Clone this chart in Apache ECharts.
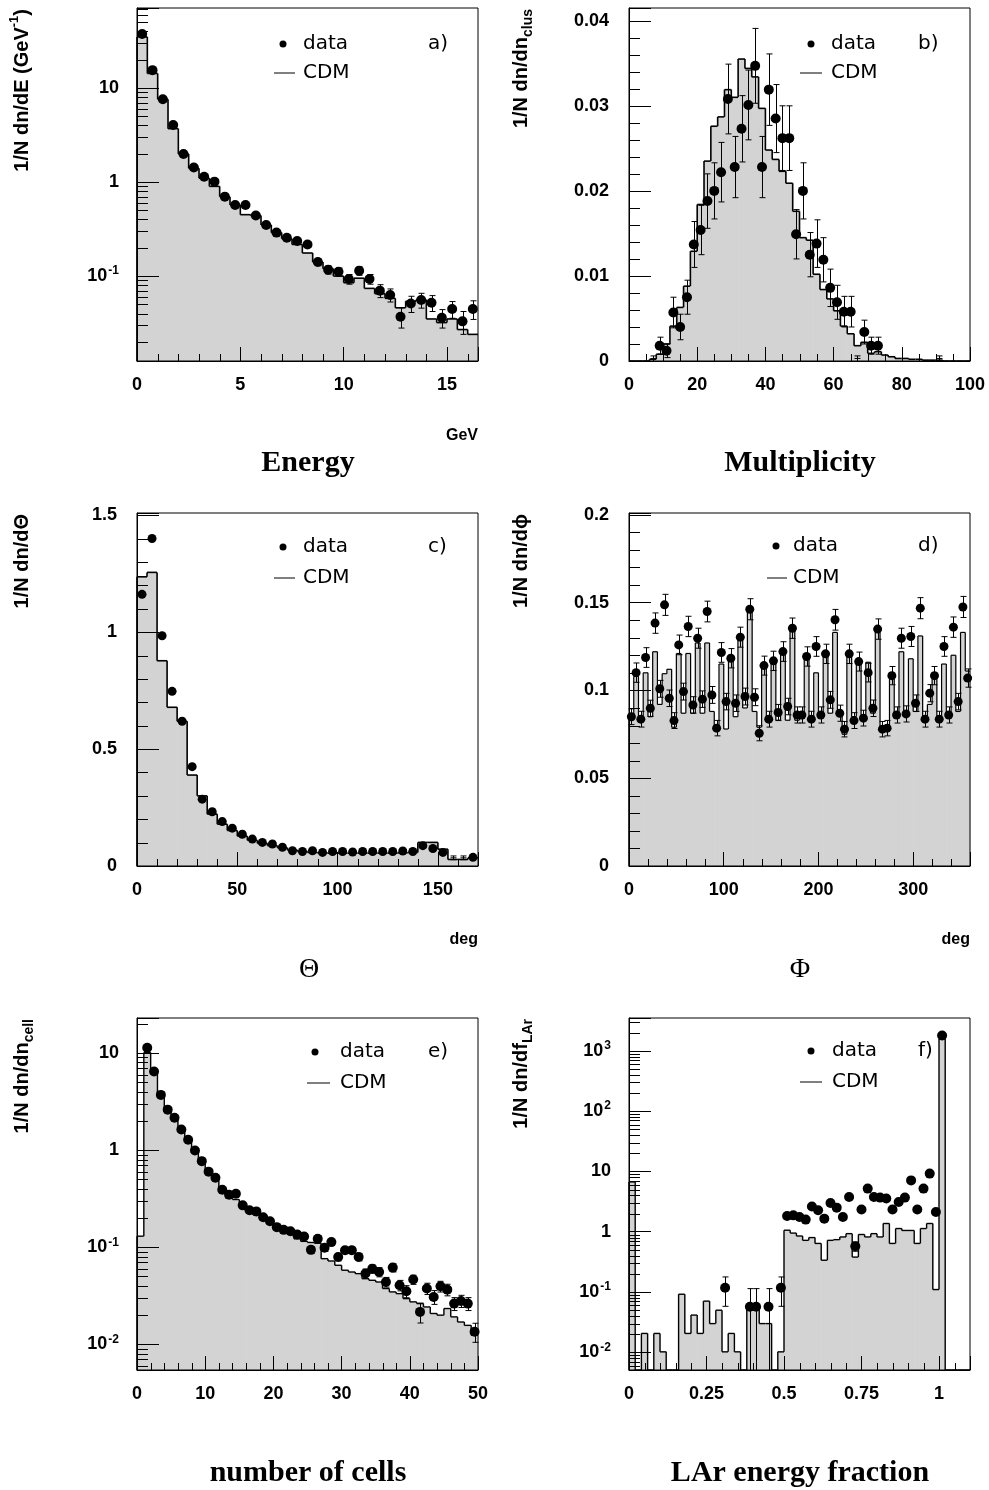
<!DOCTYPE html>
<html>
<head>
<meta charset="utf-8">
<script src="https://cdn.jsdelivr.net/npm/echarts@6.0.0/dist/echarts.min.js"></script>
<style>
html,body{margin:0;padding:0;background:#fff;}
#chart{width:989px;height:1490px;}
</style>
</head>
<body>
<div id="chart"></div>
<script>
// ================= DATA =================
// ---- a) Energy (GeV) ----
const aHistStart = 0, aHistWidth = 0.5;
const aHist = [35, 14.3, 7.6, 3.7, 1.99, 1.4, 1.1, 0.90, 0.70, 0.57, 0.45, 0.44, 0.35, 0.29, 0.25, 0.217, 0.176,
  0.141, 0.12, 0.10, 0.085, 0.095, 0.074, 0.065, 0.058, 0.046, 0.054, 0.056, 0.035, 0.032, 0.035, 0.027, 0.024];
const aPtX = [0.25, 0.75, 1.25, 1.75, 2.25, 2.75, 3.25, 3.75, 4.25, 4.75, 5.25, 5.75, 6.25, 6.75, 7.25, 7.75, 8.25,
  8.75, 9.25, 9.75, 10.25, 10.75, 11.25, 11.75, 12.25, 12.75, 13.25, 13.75, 14.25, 14.75, 15.25, 15.75, 16.25];
const aPtY = [37.5, 15.5, 7.6, 4.04, 1.99, 1.43, 1.14, 1.01, 0.70, 0.57, 0.57, 0.44, 0.35, 0.29, 0.256, 0.236, 0.217,
  0.141, 0.117, 0.111, 0.093, 0.114, 0.093, 0.070, 0.063, 0.037, 0.051, 0.0556, 0.052, 0.036, 0.0446, 0.033, 0.0446];
const aPtErr = [0.6, 0.3, 0.15, 0.08, 0.05, 0.04, 0.035, 0.03, 0.025, 0.022, 0.022, 0.02, 0.018, 0.016, 0.015, 0.014, 0.013,
  0.012, 0.012, 0.011, 0.011, 0.012, 0.011, 0.011, 0.010, 0.009, 0.010, 0.010, 0.010, 0.008, 0.009, 0.009, 0.010];

// ---- b) Multiplicity ----
const bHistStart = 0, bHistWidth = 2;
const bHist = [0, 0, 0, 0.0002, 0.0008, 0.0020, 0.0041, 0.0063, 0.0088, 0.0129,
  0.0184, 0.0235, 0.0276, 0.0287, 0.0319, 0.0310, 0.0355, 0.0344, 0.0334, 0.0297,
  0.0248, 0.0237, 0.0223, 0.0209, 0.0176, 0.0145, 0.0142, 0.0102, 0.0084, 0.0073,
  0.0059, 0.0041, 0.0032, 0.0018, 0.0022, 0.0009, 0.0011, 0.0007, 0.0005, 0.0003,
  0.0003, 0.0002, 0.0002, 0.0001, 0.0001, 0.0001, 0, 0, 0, 0];
const bPtX = [9, 11, 13, 15, 17, 19, 21, 23, 25, 27, 29, 31, 33, 35, 37, 39, 41, 43, 45, 47,
  49, 51, 53, 55, 57, 59, 61, 63, 65, 69, 71, 73];
const bPtY = [0.0018, 0.0012, 0.0057, 0.0040, 0.0075, 0.0137, 0.0154, 0.0188, 0.0200, 0.0222,
  0.0308, 0.0228, 0.0273, 0.0301, 0.0347, 0.0228, 0.0319, 0.0285, 0.0262, 0.0262,
  0.0149, 0.0200, 0.0125, 0.0138, 0.0119, 0.0086, 0.0069, 0.0058, 0.0058, 0.0034, 0.0018, 0.0018];
const bPtErr = [0.0010, 0.0008, 0.0018, 0.0015, 0.0020, 0.0027, 0.0029, 0.0032, 0.0033, 0.0035,
  0.0041, 0.0036, 0.0039, 0.0041, 0.0044, 0.0036, 0.0042, 0.0040, 0.0038, 0.0038,
  0.0029, 0.0033, 0.0026, 0.0028, 0.0026, 0.0022, 0.0020, 0.0018, 0.0018, 0.0014, 0.0010, 0.0010];
const bCrossX = [7, 67, 91];
const bCrossY = [0.0003, 0.0003, 0.0003];
const bCrossErr = [0.0003, 0.0003, 0.0003];

// ---- c) Theta (deg) ----
const cHistStart = 0, cHistWidth = 5;
const cHist = [1.237, 1.256, 0.878, 0.679, 0.619, 0.389, 0.300, 0.222, 0.179, 0.152,
  0.128, 0.110, 0.097, 0.087, 0.078, 0.068, 0.062, 0.058, 0.056, 0.055,
  0.055, 0.055, 0.055, 0.055, 0.055, 0.055, 0.056, 0.058, 0.101, 0.101,
  0.072, 0.028, 0.028, 0.035];
const cPtX = [2.5, 7.5, 12.5, 17.5, 22.5, 27.5, 32.5, 37.5, 42.5, 47.5, 52.5, 57.5, 62.5, 67.5, 72.5, 77.5,
  82.5, 87.5, 92.5, 97.5, 102.5, 107.5, 112.5, 117.5, 122.5, 127.5, 132.5, 137.5, 142.5, 147.5, 152.5, 167.5];
const cPtY = [1.162, 1.401, 0.985, 0.747, 0.619, 0.425, 0.286, 0.232, 0.190, 0.162, 0.136, 0.115, 0.101, 0.094, 0.080, 0.065,
  0.062, 0.065, 0.058, 0.062, 0.062, 0.060, 0.062, 0.062, 0.062, 0.062, 0.064, 0.062, 0.087, 0.075, 0.058, 0.037];
const cCrossX = [157.5, 162.5];
const cCrossY = [0.035, 0.035];
const cCrossErr = [0.008, 0.008];

// ---- d) Phi (deg) ----
const dHistStart = 0, dHistWidth = 5;
const dHist = [0.085, 0.108, 0.083, 0.110, 0.085, 0.122, 0.092, 0.1095, 0.112, 0.079,
  0.121, 0.087, 0.121, 0.087, 0.127, 0.087, 0.127, 0.088, 0.079, 0.115,
  0.078, 0.120, 0.085, 0.131, 0.090, 0.146, 0.088, 0.079, 0.115, 0.083,
  0.117, 0.083, 0.1235, 0.083, 0.136, 0.083, 0.084, 0.118, 0.082, 0.110,
  0.086, 0.120, 0.087, 0.133, 0.086, 0.075, 0.120, 0.085, 0.116, 0.086,
  0.116, 0.087, 0.133, 0.078, 0.080, 0.110, 0.086, 0.122, 0.087, 0.118,
  0.088, 0.131, 0.082, 0.092, 0.110, 0.085, 0.115, 0.086, 0.120, 0.088,
  0.133, 0.111];
const dPtX = [2.5, 7.5, 12.5, 17.5, 22.5, 27.5, 32.5, 37.5, 42.5, 47.5, 52.5, 57.5, 62.5, 67.5, 72.5, 77.5, 82.5, 87.5,
  92.5, 97.5, 102.5, 107.5, 112.5, 117.5, 122.5, 127.5, 132.5, 137.5, 142.5, 147.5, 152.5, 157.5, 162.5, 167.5, 172.5, 177.5,
  182.5, 187.5, 192.5, 197.5, 202.5, 207.5, 212.5, 217.5, 222.5, 227.5, 232.5, 237.5, 242.5, 247.5, 252.5, 257.5, 262.5, 267.5,
  272.5, 277.5, 282.5, 287.5, 292.5, 297.5, 302.5, 307.5, 312.5, 317.5, 322.5, 327.5, 332.5, 337.5, 342.5, 347.5, 352.5, 357.5];
const dPtY = [0.085, 0.1101, 0.0836, 0.1187, 0.0898, 0.1383, 0.1009, 0.1487, 0.0955, 0.0828, 0.1259, 0.0993,
  0.1364, 0.0917, 0.1297, 0.0950, 0.1449, 0.0974, 0.0785, 0.1216, 0.0936, 0.1183, 0.0927, 0.1303,
  0.0965, 0.1462, 0.0961, 0.0756, 0.1141, 0.0836, 0.1168, 0.0874, 0.1221, 0.0908, 0.1354, 0.0860,
  0.0860, 0.1193, 0.0836, 0.1250, 0.0860, 0.1208, 0.0946, 0.1402, 0.0870, 0.0779, 0.1208, 0.0828,
  0.1164, 0.0842, 0.1101, 0.0898, 0.1349, 0.0779, 0.0785, 0.1084, 0.0860, 0.1297, 0.0866, 0.1307,
  0.0927, 0.1468, 0.0836, 0.0984, 0.1084, 0.0836, 0.1250, 0.0860, 0.1360, 0.0936, 0.1475, 0.107];
const dPtErr = [0.0045, 0.0055, 0.0045, 0.0056, 0.0046, 0.0058, 0.0048, 0.0060, 0.0047, 0.0045, 0.0056, 0.0048,
  0.0058, 0.0047, 0.0057, 0.0047, 0.0059, 0.0048, 0.0044, 0.0056, 0.0047, 0.0055, 0.0047, 0.0057,
  0.0048, 0.0060, 0.0048, 0.0043, 0.0054, 0.0045, 0.0055, 0.0046, 0.0056, 0.0047, 0.0058, 0.0046,
  0.0046, 0.0055, 0.0045, 0.0056, 0.0046, 0.0055, 0.0048, 0.0059, 0.0046, 0.0044, 0.0055, 0.0045,
  0.0054, 0.0045, 0.0053, 0.0047, 0.0058, 0.0044, 0.0044, 0.0052, 0.0046, 0.0057, 0.0046, 0.0057,
  0.0047, 0.0060, 0.0045, 0.0049, 0.0052, 0.0045, 0.0056, 0.0046, 0.0058, 0.0047, 0.0060, 0.0052];

// ---- e) number of cells ----
const eHistStart = 0, eHistWidth = 1;
const eHist = [0.13, 10.1, 6.1, 3.75, 2.55, 2.05, 1.6, 1.23, 0.99, 0.76,
  0.59, 0.49, 0.38, 0.32, 0.31, 0.26, 0.24, 0.215, 0.197, 0.175,
  0.152, 0.146, 0.143, 0.122, 0.115, 0.112, 0.110, 0.0763, 0.0722, 0.0652,
  0.058, 0.0556, 0.0535, 0.0475, 0.0457, 0.0439, 0.0376, 0.0347, 0.0333, 0.0296,
  0.0274, 0.0263, 0.0243, 0.0208, 0.020, 0.0234, 0.0192, 0.017, 0.0157, 0.0124];
const ePtX = [1.5, 2.5, 3.5, 4.5, 5.5, 6.5, 7.5, 8.5, 9.5, 10.5, 11.5, 12.5, 13.5, 14.5, 15.5, 16.5, 17.5, 18.5, 19.5, 20.5,
  21.5, 22.5, 23.5, 24.5, 25.5, 26.5, 27.5, 28.5, 29.5, 30.5, 31.5, 32.5, 33.5, 34.5, 35.5, 36.5, 37.5, 38.5, 39.5, 40.5,
  41.5, 42.5, 43.5, 44.5, 45.5, 46.5, 47.5, 48.5, 49.5];
const ePtY = [11.3, 6.43, 3.70, 2.61, 2.15, 1.63, 1.28, 0.99, 0.77, 0.60, 0.52, 0.39, 0.347, 0.356, 0.27, 0.24, 0.234, 0.204,
  0.185, 0.161, 0.151, 0.146, 0.135, 0.129, 0.094, 0.1225, 0.099, 0.113, 0.0794, 0.093, 0.093, 0.0794, 0.0536, 0.060,
  0.0556, 0.0439, 0.0617, 0.0406, 0.0352, 0.0465, 0.0216, 0.0376, 0.0308, 0.0396, 0.0366, 0.0263, 0.028, 0.0263, 0.0135];
const ePtErr = [0.3, 0.15, 0.09, 0.06, 0.05, 0.04, 0.035, 0.03, 0.025, 0.02, 0.018, 0.016, 0.015, 0.015, 0.013, 0.012, 0.012, 0.011,
  0.010, 0.010, 0.009, 0.009, 0.009, 0.009, 0.008, 0.009, 0.008, 0.008, 0.007, 0.007, 0.007, 0.007, 0.006, 0.006,
  0.006, 0.005, 0.006, 0.005, 0.005, 0.005, 0.005, 0.005, 0.005, 0.005, 0.005, 0.004, 0.004, 0.004, 0.003];

// ---- f) LAr energy fraction ----
const fHistStart = 0, fHistWidth = 0.02;
const fHist = [6.7, 0, 0.0206, 0, 0.0206, 0.0102, 0, 0, 0.092, 0.0206,
  0.0415, 0.0206, 0.0707, 0.030, 0.050, 0.0102, 0.0206, 0.0102, 0, 0.057,
  0.057, 0.030, 0.030, 0, 0.0102, 1.06, 0.95, 0.85, 0.72, 0.80,
  0.64, 0.337, 0.72, 0.74, 0.82, 0.93, 0.38, 0.90, 0.82, 0.93,
  0.82, 1.37, 0.64, 1.13, 1.05, 1.05, 0.64, 1.13, 1.37, 0.11,
  1580, 0, 0, 0, 0];
const fPtX = [0.31, 0.39, 0.41, 0.45, 0.49, 0.51, 0.53, 0.55, 0.57, 0.59, 0.61, 0.63, 0.65, 0.67, 0.69, 0.71,
  0.73, 0.75, 0.77, 0.79, 0.81, 0.83, 0.85, 0.87, 0.89, 0.91, 0.93, 0.95, 0.97, 0.99, 1.01];
const fPtY = [0.118, 0.057, 0.057, 0.057, 0.118, 1.83, 1.87, 1.76, 1.59, 2.63, 2.27, 1.65, 3.0, 2.51, 1.76, 3.77,
  0.575, 2.33, 5.19, 3.77, 3.68, 3.55, 2.33, 3.12, 3.68, 7.1, 2.33, 5.19, 9.2, 2.13, 1790];
const fPtErr = [0.06, 0.057, 0.057, 0.057, 0.06, 0.1, 0.1, 0.1, 0.1, 0.12, 0.12, 0.1, 0.15, 0.13, 0.1, 0.17,
  0.1, 0.13, 0.2, 0.17, 0.17, 0.16, 0.13, 0.15, 0.17, 0.25, 0.13, 0.2, 0.3, 0.12, 30];

// ================= STYLE / HELPERS =================
const SANS = "'Liberation Sans', Arial, Helvetica, sans-serif";
const SERIF = "'Liberation Serif', 'Times New Roman', serif";
const LEG = "'DejaVu Sans', sans-serif";
const GRAY = '#d3d3d3';
const TICKF = 18;

const grids = [
  {left: 137, top: 8, width: 341, height: 353},
  {left: 629, top: 8, width: 341, height: 353},
  {left: 137, top: 513, width: 341, height: 353},
  {left: 629, top: 513, width: 341, height: 353},
  {left: 137, top: 1018, width: 341, height: 352},
  {left: 629, top: 1018, width: 341, height: 352}
].map(g => Object.assign({show: true, borderColor: '#000', borderWidth: 1, backgroundColor: 'transparent', containLabel: false, outerBoundsMode: 'none', z: 10}, g));

const R = {
  a: {x: [0, 16.5, 5, 1], y: [0.0125, 71]},
  b: {x: [0, 100, 20, 5], y: [0, 0.0415, 0.01, 0.002]},
  c: {x: [0, 170, 50, 10], y: [0, 1.51, 0.5, 0.1]},
  d: {x: [0, 360, 100, 20], y: [0, 0.201, 0.05, 0.01]},
  e: {x: [0, 50, 10, 2], y: [0.00545, 22.9]},
  f: {x: [0, 1.1, 0.25, 0.05], y: [0.0051, 3500]}
};

function isMult(v, step) { const r = v / step; return Math.abs(r - Math.round(r)) < 1e-6; }
function linFmt(step) { return v => isMult(v, step) ? String(+(+v).toFixed(6)) : ''; }
function logFmt(v) {
  const l = Math.log10(v), r = Math.round(l);
  if (Math.abs(l - r) > 1e-4) return '';
  if (r === 0) return '{b|1}';
  if (r === 1) return '{b|10}';
  return '{b|10}{s|' + r + '}';
}
const labRich = {
  b: {fontFamily: SANS, fontWeight: 'bold', fontSize: TICKF, color: '#000', lineHeight: 22},
  s: {fontFamily: SANS, fontWeight: 'bold', fontSize: 12, color: '#000', verticalAlign: 'top', padding: [0, 0, 0, 1]}
};

function xAx(gi, r) {
  return {
    type: 'value', gridIndex: gi, min: r[0], max: r[1], interval: r[2], z: 10,
    axisLine: {show: true, onZero: false, lineStyle: {color: '#000', width: 1}},
    axisTick: {show: true, inside: true, length: 14, lineStyle: {color: '#000', width: 1}},
    minorTick: {show: false}, splitLine: {show: false},
    axisLabel: {color: '#000', fontFamily: SANS, fontWeight: 'bold', fontSize: TICKF, margin: 15,
      formatter: linFmt(r[2]), showMinLabel: true, showMaxLabel: true, hideOverlap: false}
  };
}
function yAxLin(gi, r) {
  return {
    type: 'value', gridIndex: gi, min: r[0], max: r[1], interval: r[2], z: 10,
    axisLine: {show: true, onZero: false, lineStyle: {color: '#000', width: 1}},
    axisTick: {show: true, inside: true, length: 22, lineStyle: {color: '#000', width: 1}},
    minorTick: {show: false}, splitLine: {show: false},
    axisLabel: {color: '#000', fontFamily: SANS, fontWeight: 'bold', fontSize: TICKF, margin: 20,
      formatter: linFmt(r[2]), showMinLabel: true, showMaxLabel: true, hideOverlap: false}
  };
}
function yAxLog(gi, r) {
  return {
    type: 'log', logBase: 10, gridIndex: gi, min: r[0], max: r[1], z: 10,
    axisLine: {show: true, onZero: false, lineStyle: {color: '#000', width: 1}},
    axisTick: {show: true, inside: true, length: 22, lineStyle: {color: '#000', width: 1}},
    minorTick: {show: false}, splitLine: {show: false},
    axisLabel: {color: '#000', fontFamily: SANS, fontWeight: 'bold', fontSize: TICKF, margin: 18,
      formatter: logFmt, rich: labRich, showMinLabel: true, showMaxLabel: true, hideOverlap: false}
  };
}

function linMinor(min, max, step, major) {
  const out = [];
  for (let k = Math.ceil(min / step - 1e-9); k * step <= max + 1e-9; k++) {
    const v = +(k * step).toFixed(10);
    if (!isMult(v, major) && v > min && v < max) out.push(v);
  }
  return out;
}
function logMinor(min, max) {
  const out = [];
  for (let n = Math.floor(Math.log10(min)); n <= Math.ceil(Math.log10(max)); n++) {
    for (let k = 2; k <= 9; k++) { const v = k * Math.pow(10, n); if (v > min && v < max) out.push(v); }
  }
  return out;
}
function minorX(gi, vals, yRef, len) {
  return {
    type: 'custom', xAxisIndex: gi, yAxisIndex: gi, silent: true, z: 8, animation: false,
    data: vals.map(v => [v, yRef]), encode: {x: 0, y: 1},
    renderItem: (p, api) => {
      const cs = p.coordSys; const pt = api.coord([api.value(0), api.value(1)]);
      const yb = cs.y + cs.height; const x = Math.round(pt[0]) + 0.5;
      return {type: 'line', shape: {x1: x, y1: yb, x2: x, y2: yb - len}, style: {stroke: '#000', lineWidth: 1}};
    }
  };
}
function minorY(gi, vals, xRef, len) {
  return {
    type: 'custom', xAxisIndex: gi, yAxisIndex: gi, silent: true, z: 8, animation: false,
    data: vals.map(v => [xRef, v]), encode: {x: 0, y: 1},
    renderItem: (p, api) => {
      const cs = p.coordSys; const pt = api.coord([api.value(0), api.value(1)]);
      const y = Math.round(pt[1]) + 0.5;
      return {type: 'line', shape: {x1: cs.x, y1: y, x2: cs.x + len, y2: y}, style: {stroke: '#000', lineWidth: 1}};
    }
  };
}

function histSeries(gi, start, width, vals, ymin, ymax, lw) {
  const data = vals.map((v, i) => [start + i * width, start + (i + 1) * width, v, i > 0 ? vals[i - 1] : 0]);
  return {
    type: 'custom', xAxisIndex: gi, yAxisIndex: gi, silent: true, z: 2, animation: false,
    data: data, encode: {x: [0, 1], y: [2]},
    renderItem: (p, api) => {
      const cs = p.coordSys;
      const clamp = v => Math.min(Math.max(v, ymin), ymax);
      const x0 = api.value(0), x1 = api.value(1);
      const v = clamp(api.value(2)), vp = clamp(api.value(3));
      const a = api.coord([x0, v]), b = api.coord([x1, v]), pp = api.coord([x0, vp]);
      const base = cs.y + cs.height;
      return {
        type: 'group', children: [
          {type: 'rect', shape: {x: a[0], y: a[1], width: b[0] - a[0] + 0.6, height: base - a[1]}, style: {fill: GRAY}},
          {type: 'line', shape: {x1: a[0], y1: a[1], x2: b[0], y2: b[1]}, style: {stroke: '#000', lineWidth: lw}},
          {type: 'line', shape: {x1: a[0], y1: pp[1], x2: a[0], y2: a[1]}, style: {stroke: '#000', lineWidth: lw}}
        ]
      };
    }
  };
}

function errSeries(gi, xs, ys, es, ymin, ymax, cross) {
  return {
    type: 'custom', xAxisIndex: gi, yAxisIndex: gi, silent: true, z: 3, animation: false,
    data: xs.map((x, i) => [x, ys[i], es[i]]), encode: {x: 0, y: 1},
    renderItem: (p, api) => {
      const x = api.value(0), y = api.value(1), e = api.value(2);
      const loRaw = y - e, hiRaw = y + e;
      const lo = Math.max(loRaw, ymin), hi = Math.min(hiRaw, ymax);
      const pl = api.coord([x, lo]), ph = api.coord([x, hi]), pc = api.coord([x, y]);
      const xx = Math.round(pl[0]) + 0.5;
      const ch = [{type: 'line', shape: {x1: xx, y1: pl[1], x2: xx, y2: ph[1]}, style: {stroke: '#000', lineWidth: 1}}];
      if (hiRaw <= ymax) ch.push({type: 'line', shape: {x1: xx - 3, y1: ph[1], x2: xx + 3, y2: ph[1]}, style: {stroke: '#000', lineWidth: 1}});
      if (loRaw > ymin) ch.push({type: 'line', shape: {x1: xx - 3, y1: pl[1], x2: xx + 3, y2: pl[1]}, style: {stroke: '#000', lineWidth: 1}});
      if (cross) ch.push({type: 'line', shape: {x1: xx - 3, y1: pc[1], x2: xx + 3, y2: pc[1]}, style: {stroke: '#000', lineWidth: 1}});
      return {type: 'group', children: ch};
    }
  };
}

function ptSeries(gi, xs, ys, size) {
  return {
    type: 'scatter', xAxisIndex: gi, yAxisIndex: gi, silent: true, z: 4, animation: false,
    symbol: 'circle', symbolSize: size, itemStyle: {color: '#000', opacity: 1},
    data: xs.map((x, i) => [x, ys[i]])
  };
}

// ================= BUILD =================
const xAxes = [xAx(0, R.a.x), xAx(1, R.b.x), xAx(2, R.c.x), xAx(3, R.d.x), xAx(4, R.e.x), xAx(5, R.f.x)];
const yAxes = [yAxLog(0, R.a.y), yAxLin(1, R.b.y), yAxLin(2, R.c.y), yAxLin(3, R.d.y), yAxLog(4, R.e.y), yAxLog(5, R.f.y)];

const series = [
  histSeries(0, aHistStart, aHistWidth, aHist, R.a.y[0], R.a.y[1], 1.6),
  errSeries(0, aPtX, aPtY, aPtErr, R.a.y[0], R.a.y[1]),
  ptSeries(0, aPtX, aPtY, 10),
  histSeries(1, bHistStart, bHistWidth, bHist, R.b.y[0], R.b.y[1], 1.6),
  errSeries(1, bPtX, bPtY, bPtErr, R.b.y[0], R.b.y[1]),
  errSeries(1, bCrossX, bCrossY, bCrossErr, R.b.y[0], R.b.y[1], true),
  ptSeries(1, bPtX, bPtY, 10),
  histSeries(2, cHistStart, cHistWidth, cHist, R.c.y[0], R.c.y[1], 1.6),
  errSeries(2, cCrossX, cCrossY, cCrossErr, R.c.y[0], R.c.y[1], true),
  ptSeries(2, cPtX, cPtY, 9),
  histSeries(3, dHistStart, dHistWidth, dHist, R.d.y[0], R.d.y[1], 1.2),
  errSeries(3, dPtX, dPtY, dPtErr, R.d.y[0], R.d.y[1]),
  ptSeries(3, dPtX, dPtY, 9),
  histSeries(4, eHistStart, eHistWidth, eHist, R.e.y[0], R.e.y[1], 1.4),
  errSeries(4, ePtX, ePtY, ePtErr, R.e.y[0], R.e.y[1]),
  ptSeries(4, ePtX, ePtY, 10),
  histSeries(5, fHistStart, fHistWidth, fHist, R.f.y[0], R.f.y[1], 1.4),
  errSeries(5, fPtX, fPtY, fPtErr, R.f.y[0], R.f.y[1]),
  ptSeries(5, fPtX, fPtY, 10)
];

const keys = ['a', 'b', 'c', 'd', 'e', 'f'];
keys.forEach((k, gi) => {
  const r = R[k];
  const yRef = r.y.length === 2 ? r.y[0] * 1.0001 : r.y[0];
  series.push(minorX(gi, linMinor(r.x[0], r.x[1], r.x[3], r.x[2]), yRef, 7));
  if (r.y.length === 2) series.push(minorY(gi, logMinor(r.y[0], r.y[1]), r.x[0], 11));
  else series.push(minorY(gi, linMinor(r.y[0], r.y[1], r.y[3], r.y[2]), r.x[0], 11));
});

// ================= TEXT (graphic) =================
const G = [];
function text(x, y, t, font, align, vAlign, rot, rich) {
  const el = {type: 'text', x: x, y: y, z: 20, silent: true,
    style: {text: t, font: font, fill: '#000', align: align || 'center', verticalAlign: vAlign || 'middle'}};
  if (rot) el.rotation = rot;
  if (rich) el.style.rich = rich;
  return el;
}
const TITLE = "bold 30px " + SERIF;
G.push(text(308, 463, 'Energy', TITLE));
G.push(text(800, 463, 'Multiplicity', TITLE));
G.push(text(309, 970, 'Θ', "28px " + SERIF));
G.push(text(800, 970, 'Φ', "28px " + SERIF));
G.push(text(308, 1473, 'number of cells', TITLE));
G.push(text(800, 1473, 'LAr energy fraction', TITLE));

const UNIT = "bold 16px " + SANS;
G.push(text(478, 436, 'GeV', UNIT, 'right'));
G.push(text(478, 940, 'deg', UNIT, 'right'));
G.push(text(970, 940, 'deg', UNIT, 'right'));

const ytRich = {
  n: {fontFamily: SANS, fontWeight: 'bold', fontSize: 20, lineHeight: 28, fill: '#000', color: '#000'},
  sup: {fontFamily: SANS, fontWeight: 'bold', fontSize: 13, verticalAlign: 'top', fill: '#000', color: '#000'},
  sub: {fontFamily: SANS, fontWeight: 'bold', fontSize: 14, verticalAlign: 'bottom', fill: '#000', color: '#000'}
};
const ROT = Math.PI / 2;
const YF = "bold 20px " + SANS;
G.push(text(22, 9, '{n|1/N dn/dE (GeV}{sup|-1}{n|)}', YF, 'right', 'middle', ROT, ytRich));
G.push(text(521, 9, '{n|1/N dn/dn}{sub|clus}', YF, 'right', 'middle', ROT, ytRich));
G.push(text(22, 514, '{n|1/N dn/dΘ}', YF, 'right', 'middle', ROT, ytRich));
G.push(text(521, 514, '{n|1/N dn/dϕ}', YF, 'right', 'middle', ROT, ytRich));
G.push(text(22, 1019, '{n|1/N dn/dn}{sub|cell}', YF, 'right', 'middle', ROT, ytRich));
G.push(text(521, 1019, '{n|1/N dn/df}{sub|LAr}', YF, 'right', 'middle', ROT, ytRich));

const LF = "20px " + LEG;
function legend(dotX, dotY, dashX1, dashX2, dashY, txtX, lblX, lbl) {
  G.push({type: 'circle', z: 20, silent: true, shape: {cx: dotX, cy: dotY, r: 3.5}, style: {fill: '#000'}});
  G.push(text(txtX, dotY, 'data', LF, 'left'));
  G.push(text(lblX, dotY, lbl, LF, 'left'));
  G.push({type: 'line', z: 20, silent: true, shape: {x1: dashX1, y1: dashY, x2: dashX2, y2: dashY}, style: {stroke: '#000', lineWidth: 1}});
  G.push(text(txtX, dashY, 'CDM', LF, 'left'));
}
legend(283, 44, 274, 295, 73, 303, 428, 'a)');
legend(811, 44, 800, 822, 73, 831, 918, 'b)');
legend(283, 547, 274, 295, 578, 303, 428, 'c)');
legend(776, 546, 767, 787, 578, 793, 918, 'd)');
legend(315, 1052, 307, 330, 1083, 340, 428, 'e)');
legend(811, 1051, 800, 822, 1082, 832, 918, 'f)');

const chart = echarts.init(document.getElementById('chart'), null, {renderer: 'canvas', width: 989, height: 1490});
chart.setOption({
  animation: false,
  backgroundColor: '#fff',
  grid: grids,
  xAxis: xAxes,
  yAxis: yAxes,
  series: series,
  graphic: G
});
</script>
</body>
</html>
